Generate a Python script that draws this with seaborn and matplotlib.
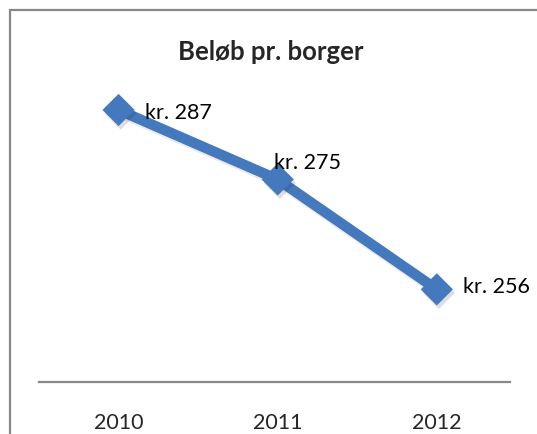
import matplotlib
matplotlib.use("Agg")
import matplotlib.pyplot as plt
import matplotlib.patheffects as pe
from matplotlib.patches import Rectangle
import seaborn as sns
import pandas as pd

# Data
years = ["2010", "2011", "2012"]
amounts = [287, 275, 256]
point_labels = ["kr. 287", "kr. 275", "kr. 256"]
title = "Beløb pr. borger"

# label placement (pixels from the marker centre)
label_offsets = [(26, -3), (-4, 16), (26, 2)]

line_color = "#4579BE"
frame_gray = "#888888"

sns.set_style("white")
plt.rcParams["font.family"] = ["Lato", "DejaVu Sans"]

df = pd.DataFrame({"year": years, "amount": amounts})

fig = plt.figure(figsize=(5.37, 4.34), dpi=100)
ax = fig.add_axes([39 / 537, 1 - 382 / 434, 471 / 537, (382 - 92.6) / 434])

sns.lineplot(data=df, x="year", y="amount", ax=ax, color=line_color, linewidth=7.5,
             path_effects=[pe.SimpleLineShadow(offset=(1, -2), alpha=0.08), pe.Normal()])
sns.scatterplot(data=df, x="year", y="amount", ax=ax, color=line_color, marker="D",
                s=270, linewidth=0, zorder=3,
                path_effects=[pe.SimplePatchShadow(offset=(1.5, -2.5), alpha=0.15), pe.Normal()])

for i, (txt, (dx, dy)) in enumerate(zip(point_labels, label_offsets)):
    ax.annotate(txt, (i, amounts[i]), xytext=(dx, dy), textcoords="offset pixels",
                ha="left", va="center", fontsize=15.5, color="black")

ax.set_xlim(-0.5, 2.46)
ax.set_ylim(240, 290)
ax.set_xlabel("")
ax.set_ylabel("")
ax.set_yticks([])
ax.tick_params(axis="x", length=0, pad=22, labelsize=15.5)
for side in ["top", "right", "left"]:
    ax.spines[side].set_visible(False)
ax.spines["bottom"].set_color(frame_gray)
ax.spines["bottom"].set_linewidth(1.6)
ax.patch.set_alpha(0)

fig.text(271 / 537, 1 - 52 / 434, title, ha="center", va="center",
         fontsize=18.5, fontweight="bold")

# chart border (cut off at right and bottom edges)
fig.patches.append(Rectangle((9.5 / 537, -0.1), 1.2, 1 - 10.5 / 434 + 0.1,
                             transform=fig.transFigure, fill=False,
                             edgecolor=frame_gray, linewidth=1.6, zorder=0))

fig.savefig("out.png", dpi=100)
